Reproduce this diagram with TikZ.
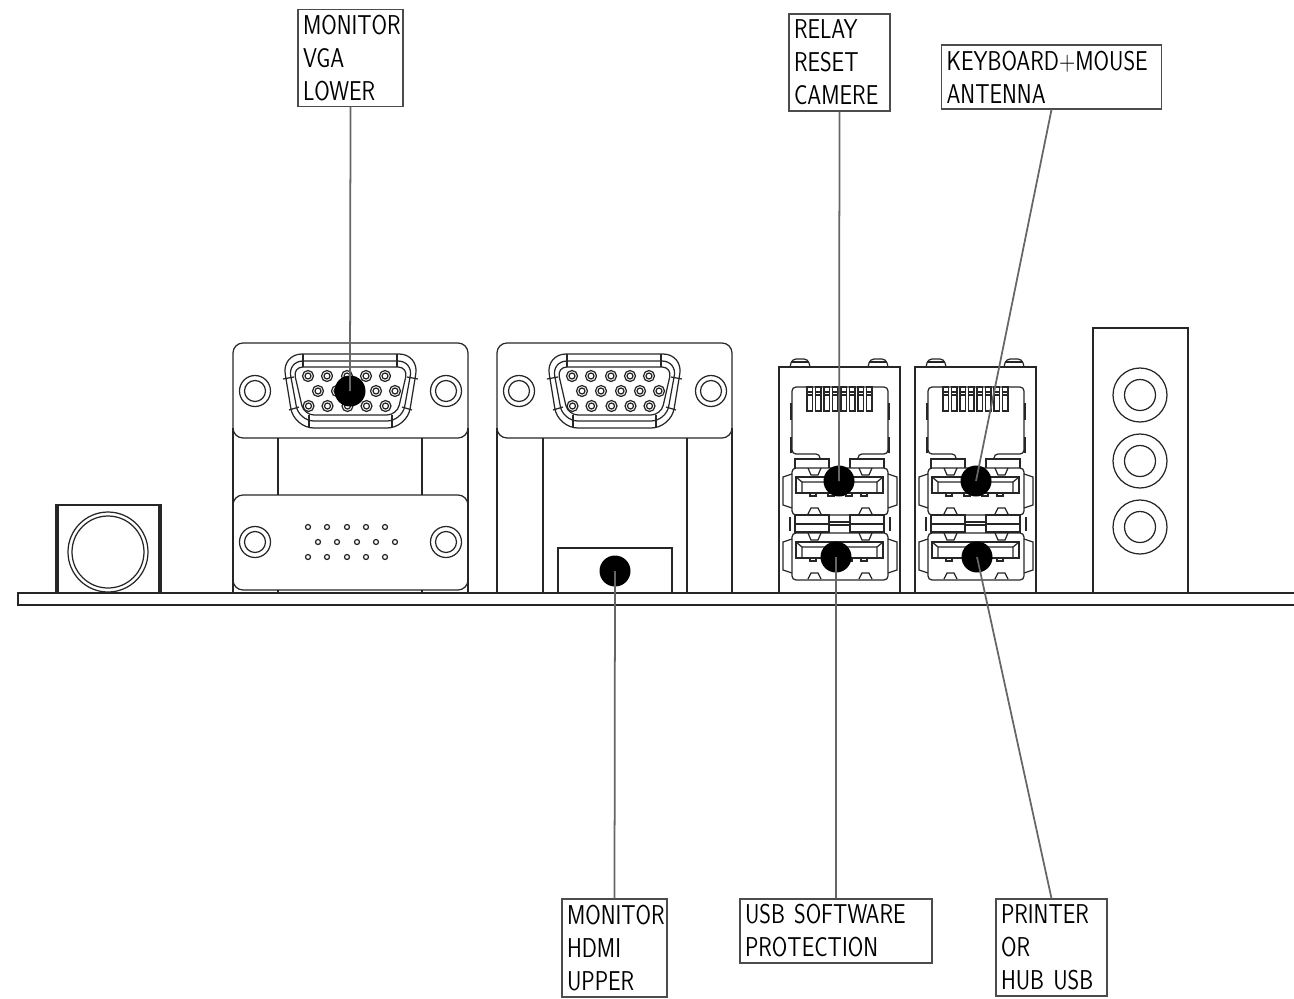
\documentclass[tikz,border=0pt]{standalone}
\usepackage{fontspec}
\newfontfamily\labelfont{Latin Modern Sans}[FakeStretch=0.82]
\usepackage{xcolor}
\colorlet{linecol}{black!85}
\colorlet{leadcol}{black!60}
\tikzset{
  part/.style={draw=linecol,line width=0.7pt},
  lead/.style={draw=leadcol,line width=1pt},
  label box/.style={draw=black!70,line width=0.7pt,inner xsep=0.1cm,inner ysep=0pt,align=left,
    font=\labelfont\fontsize{15.5}{18.8}\selectfont},
  dot/.style={circle,fill=black,inner sep=0pt,minimum size=0.62cm}
}
\def\rcbig{0.2cm}
\def\rcsmall{0.08cm}

% screw hole on a plate
\newcommand{\screwhole}[2]{
  \draw[part] (#1,#2) circle (15.5) (#1,#2) circle (10.5);
}
% plate of a d-sub connector, top at #1, bottom at #2
\newcommand{\dplate}[2]{
  \draw[part,rounded corners=\rcbig] (233,#1) rectangle (468,#2);
}
\newcommand{\dpins}{
  \foreach \x in {308,327,347,366,385} {
    \draw[part] (\x,376) circle (5.5) (\x,376) circle (3);
    \draw[part] (\x+0.5,406) circle (5.5) (\x+0.5,406) circle (3);
    \draw[part] (\x+10,391) circle (5.5) (\x+10,391) circle (3);
  }
}
\newcommand{\dshell}{
  \draw[part,rounded corners=0.4cm] (282,354) -- (419,354) -- (407,428) -- (294,428) -- cycle;
  \draw[part,rounded corners=0.3cm] (288,361) -- (413,361) -- (402,421) -- (299,421) -- cycle;
  \draw[part,rounded corners=0.2cm] (293,367) -- (408,367) -- (397,415) -- (304,415) -- cycle;
  \draw[part] (303,354) -- (303,367) (397,354) -- (397,367);
  \draw[part] (309,415) -- (309,428) (392,415) -- (392,428);
  \draw[part] (283,379) -- (294,377) (418,379) -- (407,377);
  \draw[part] (289,410) -- (299,407) (412,410) -- (402,407);
  \dpins
}
% one usb port, top at y=0 of the scope
\newcommand{\usbport}{
  \draw[part,rounded corners=\rcsmall] (792,0) rectangle (888,47);
  \draw[part] (792,6) -- (783,9) -- (783,37) -- (792,40);
  \draw[part] (888,6) -- (897,9) -- (897,37) -- (888,40);
  \draw[part] (796,9) rectangle (883,25);
  \draw[part] (802,14) -- (877,14) (796,9) -- (802,14) -- (802,25) (883,9) -- (877,14) -- (877,25);
  \foreach \x in {808,859} {
    \draw[part] (\x,0) -- (\x+3,7) -- (\x+10,7) -- (\x+13,0);
    \draw[part] (\x,46) -- (\x+3,40) -- (\x+10,40) -- (\x+13,46);
    \draw[part] (\x+2,25) rectangle (\x+8,28);
  }
  \draw[part] (828,25) rectangle (834,28) (846,25) rectangle (852,28);
}
% network jack with two usb ports under it
\newcommand{\netstack}{
  \draw[part] (779,593) -- (779,367) -- (900,367) -- (900,593);
  \foreach \x in {800,878} {
    \draw[part,rounded corners=\rcsmall] (\x-10,367) -- (\x-8,359) -- (\x+8,359) -- (\x+10,367);
    \draw[part] (\x-9,362) -- (\x+9,362);
  }
  \draw[part,rounded corners=\rcsmall] (820,459) -- (820,454) -- (792,454) -- (792,387) -- (888,387) -- (888,454) -- (858,454) -- (858,459);
  \draw[part,line width=1.2pt] (791,403) -- (791,420) (791,437) -- (791,453) (889,403) -- (889,420) (889,437) -- (889,453);
  \foreach \x in {0,...,7} {
    \draw[part] (807+8.5*\x,387) rectangle (812.5+8.5*\x,411);
    \draw[part] (807+8.5*\x,392) -- (812.5+8.5*\x,392) (807+8.5*\x,395) -- (812.5+8.5*\x,395);
  }
  \draw[part] (795,468) -- (795,459) -- (829,459) -- (829,468) (850,468) -- (850,459) -- (884,459) -- (884,468);
  \begin{scope}[shift={(0,468)}]\usbport\end{scope}
  \begin{scope}[shift={(0,533)}]\usbport\end{scope}
  \draw[part] (795,515) rectangle (829,532) (850,515) rectangle (884,532);
  \draw[part] (829,522) -- (850,522) (829,525) -- (850,525) (795,524) -- (829,524) (850,524) -- (884,524);
  \draw[part] (790,517) -- (790,531) (890,517) -- (890,531);
}

\begin{document}
\begin{tikzpicture}[x=0.02cm,y=-0.02cm]
    \useasboundingbox (0,0) rectangle (1294,998);

    % board edge
    \draw[part] (1294,593) -- (18,593) -- (18,605) -- (1294,605);

    % power socket
    \draw[part] (56,593) -- (56,505) -- (161,505) -- (161,593);
    \draw[part] (58,505) -- (58,593) (159,505) -- (159,593);
    \draw[part] (108,552) circle (40) (108,552) circle (36);

    % lower connector column
    \dplate{343}{438}
    \dplate{495}{590}
    \draw[part] (233,428) -- (233,593) (468,428) -- (468,593);
    \draw[part] (278,438) -- (278,495) (422,438) -- (422,495) (278,590) -- (278,593) (422,590) -- (422,593);
    \screwhole{255}{391}
    \screwhole{446}{391}
    \screwhole{255}{542}
    \screwhole{446}{542}
    \dshell
    \foreach \x in {308,327,347,366,385} {
      \draw[part] (\x,527) circle (2.5) (\x,557) circle (2.5) (\x+10,542) circle (2.5);
    }

    % upper connector column
    \begin{scope}[shift={(264,0)}]
      \dplate{343}{438}
      \draw[part] (233,428) -- (233,593) (468,428) -- (468,593);
      \draw[part] (279,438) -- (279,593) (423,438) -- (423,593);
      \screwhole{255}{391}
      \screwhole{447}{391}
      \dshell
      \draw[part] (294,593) -- (294,548) -- (408,548) -- (408,593);
    \end{scope}

    % network and usb stacks
    \netstack
    \begin{scope}[shift={(136,0)}]\netstack\end{scope}

    % audio panel
    \draw[part] (1093,593) -- (1093,328) -- (1188,328) -- (1188,593);
    \foreach \y in {395,461,527} {
      \draw[part] (1140,\y) circle (27) (1140,\y) circle (15.5);
    }

    % marked sockets
    \node[dot] (vga) at (350,391) {};
    \node[dot] (hdmi) at (615,571) {};
    \node[dot] (relay) at (839,481) {};
    \node[dot] (keyboard) at (976,481) {};
    \node[dot] (usb) at (836,557) {};
    \node[dot] (printer) at (977,557) {};

    % labels
    \node[label box,text width=1.9cm,minimum height=1.94cm] (vgalabel) at (350.5,58) {MONITOR\\VGA\\LOWER};
    \node[label box,text width=1.82cm,minimum height=1.94cm] (relaylabel) at (839.5,62.5) {RELAY\\RESET\\CAMERE};
    \node[label box,text width=4.2cm,minimum height=1.28cm] (keyboardlabel) at (1051.5,77) {KEYBOARD+MOUSE\\ANTENNA};
    \node[label box,text width=1.9cm,minimum height=1.96cm] (hdmilabel) at (614.5,948) {MONITOR\\HDMI\\UPPER};
    \node[label box,text width=3.64cm,minimum height=1.28cm] (usblabel) at (836,931) {USB~SOFTWARE\\PROTECTION};
    \node[label box,text width=2.02cm,minimum height=1.94cm] (printerlabel) at (1051.5,947.5) {PRINTER\\OR\\HUB~USB};

    % leaders
    \draw[lead] (vga.center) -- (vgalabel.south);
    \draw[lead] (relay.center) -- (relaylabel.south);
    \draw[lead] (keyboard.center) -- (keyboardlabel.south);
    \draw[lead] (hdmi.center) -- (hdmilabel.north);
    \draw[lead] (usb.center) -- (usblabel.north);
    \draw[lead] (printer.center) -- (printerlabel.north);
\end{tikzpicture}
\end{document}
